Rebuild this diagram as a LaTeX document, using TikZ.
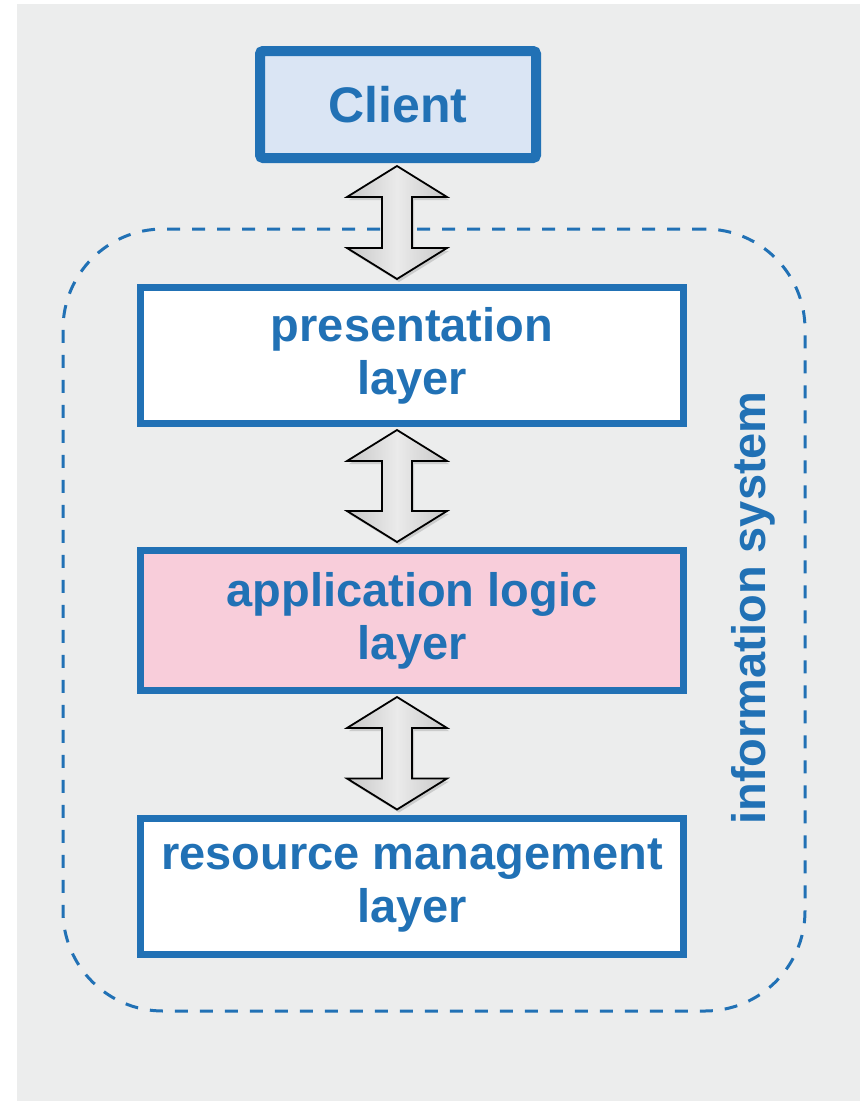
\documentclass[tikz,border=0pt]{standalone}
\usepackage{fontspec}
\setmainfont{Liberation Sans}
\usetikzlibrary{calc,shadows}
\definecolor{isblue}{RGB}{33,113,181}
\definecolor{clientfill}{RGB}{218,229,244}
\definecolor{logicfill}{RGB}{248,205,218}
\definecolor{bggray}{RGB}{236,237,237}
\tikzset{
  layer/.style={draw=isblue,line width=7pt,fill=white,text=isblue,align=center,
    minimum width=543pt,minimum height=136pt,inner sep=0pt,
    font=\fontsize{47}{53}\selectfont\bfseries},
  updown/.style={draw=black,line width=1.8pt,line join=miter,
    left color=black!22,right color=black!22,middle color=black!8,
    drop shadow={opacity=0.3,shadow xshift=2pt,shadow yshift=-3pt}}
}
% double arrow between two boxes
\newcommand{\updown}[2]{%
  \path[updown] let \p1=(#1.south), \p2=(#2.north), \p3=(axis) in
    (\x3,\y1-3pt) -- (\x3+50pt,\y1-34pt) -- (\x3+15pt,\y1-34pt)
    -- (\x3+15pt,\y2+36pt) -- (\x3+50pt,\y2+36pt) -- (\x3,\y2+5pt)
    -- (\x3-50pt,\y2+36pt) -- (\x3-15pt,\y2+36pt) -- (\x3-15pt,\y1-34pt)
    -- (\x3-50pt,\y1-34pt) -- cycle;}
\begin{document}
\begin{tikzpicture}[x=1pt,y=-1pt]
  \useasboundingbox (0,0) rectangle (860,1103);
  \fill[bggray] (17,4) rectangle (860,1101);
  \node[draw=isblue,line width=3pt,dash pattern=on 13pt off 12pt,
    rounded corners=100pt,minimum width=742pt,minimum height=782pt] (infosys) at (434,620) {};
  \node[rotate=90,text=isblue,font=\fontsize{47}{53}\selectfont\bfseries] (islabel) at (753,608) {information system};
  \coordinate (axis) at (397,0);
  \begin{scope}[every node/.style={drop shadow={opacity=0.2,shadow xshift=2pt,shadow yshift=-3pt}}]
    \node[draw=isblue,line width=10pt,fill=clientfill,rounded corners=3pt,text=isblue,
      minimum width=276pt,minimum height=107pt,font=\fontsize{50}{56}\selectfont\bfseries] (client) at (398,104.5) {Client};
    \node[layer] (pres) at (412,355.5) {presentation\\layer};
    \node[layer,fill=logicfill,minimum height=140pt] (app) at (412,620.5) {application logic\\layer};
    \node[layer] (res) at (412,886) {resource management\\layer};
  \end{scope}
  \updown{client}{pres}
  \updown{pres}{app}
  \updown{app}{res}
\end{tikzpicture}
\end{document}
